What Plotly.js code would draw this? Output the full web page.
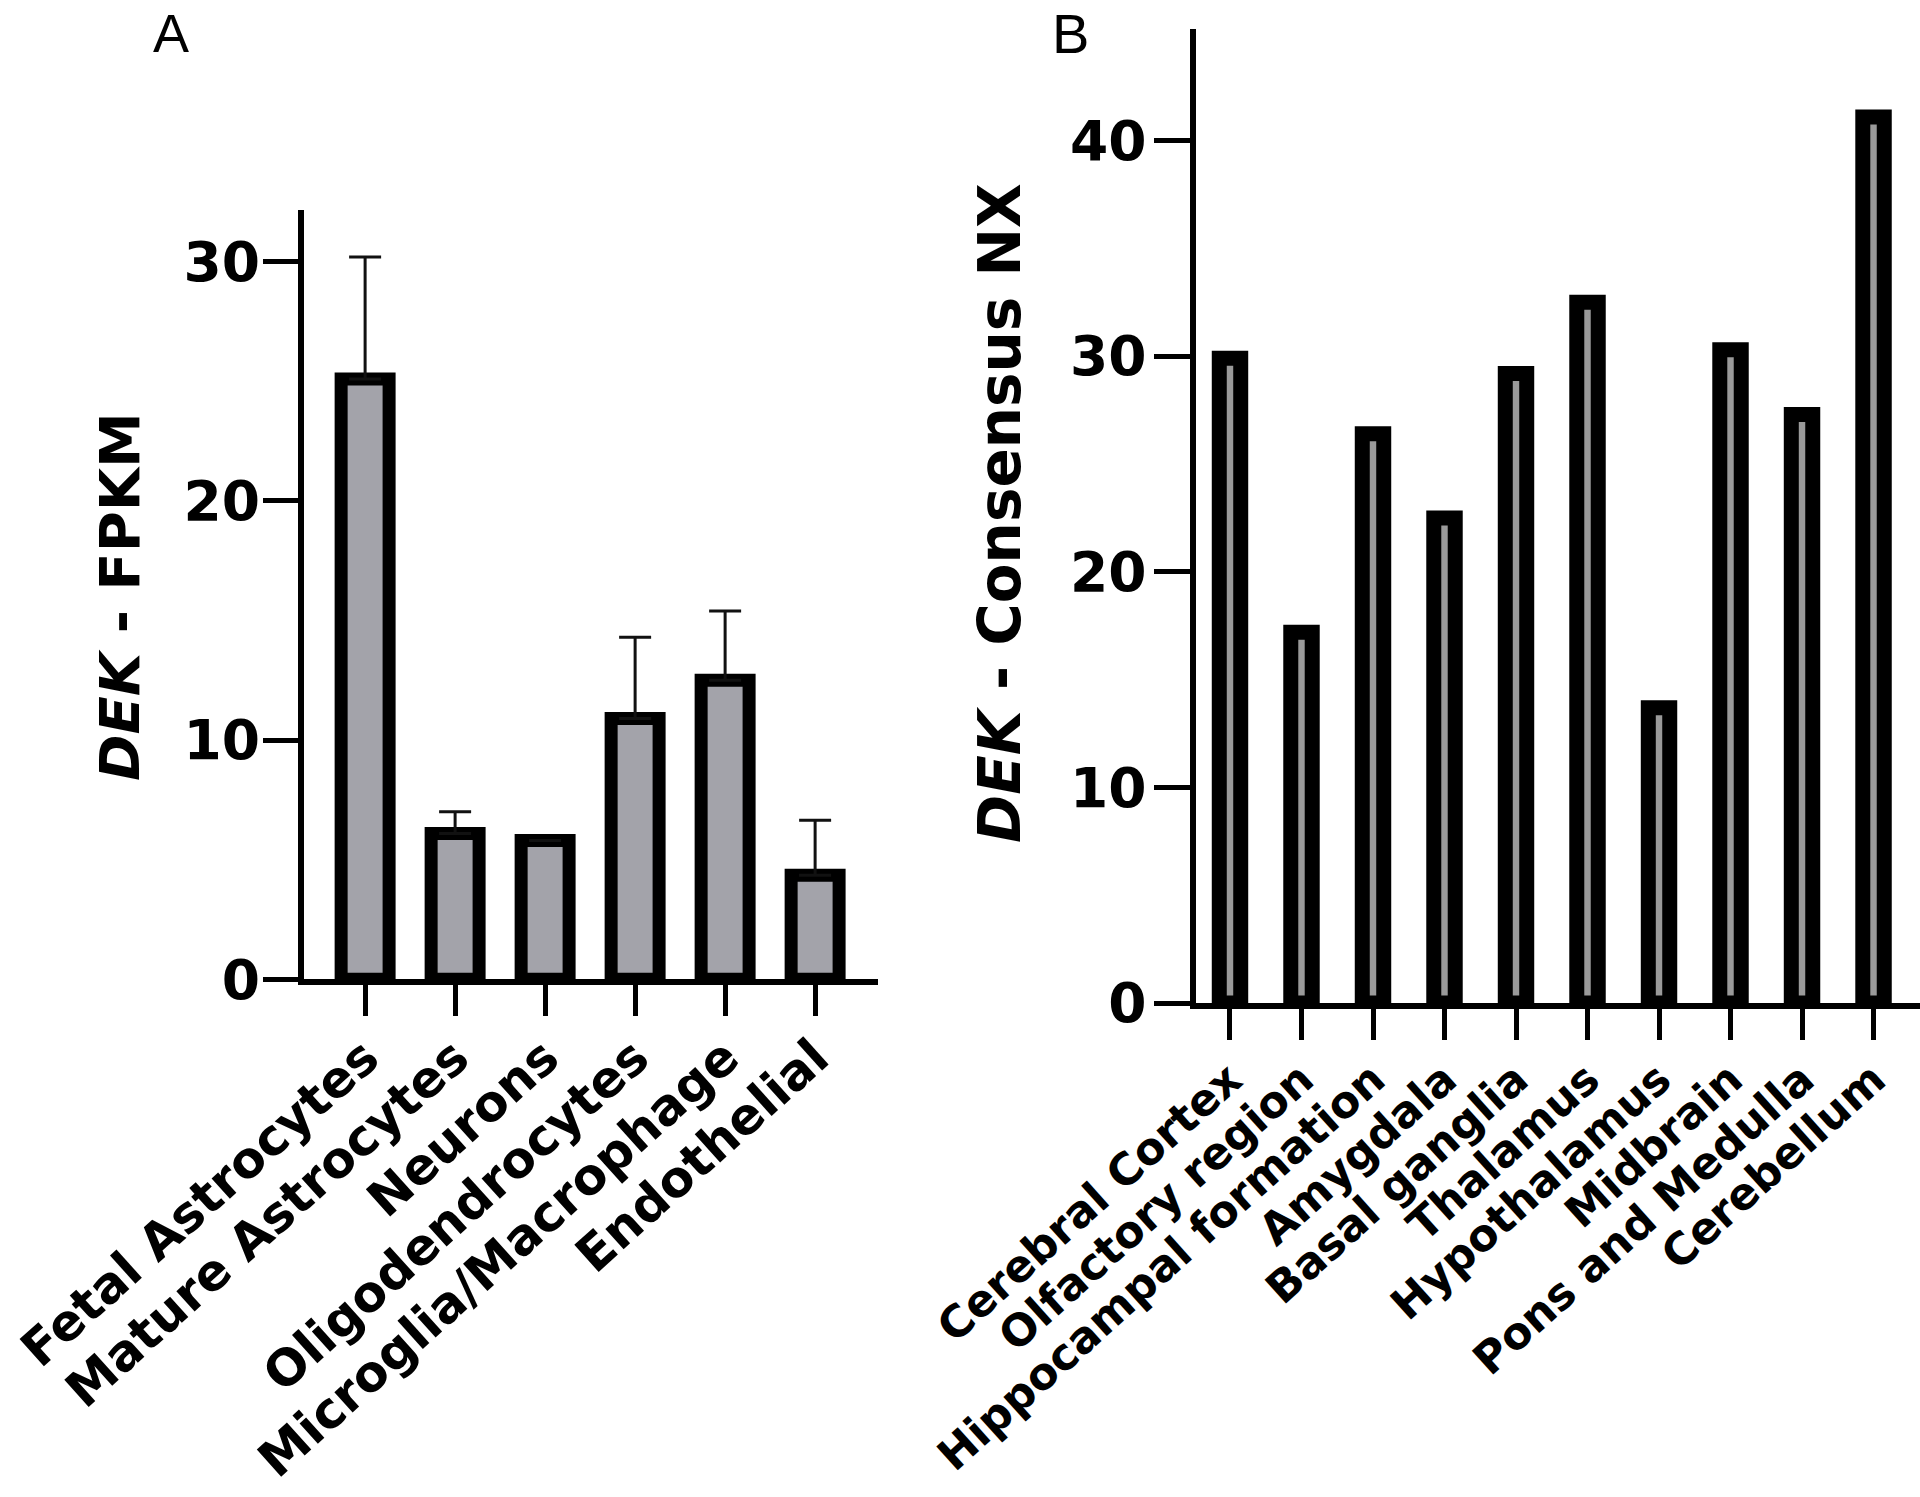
<!DOCTYPE html>
<html>
<head>
<meta charset="utf-8">
<script src="https://cdn.plot.ly/plotly-3.0.1.min.js"></script>
<style>
  html, body { margin: 0; padding: 0; background: #ffffff; }
  #chart { width: 1920px; height: 1497px; }
</style>
</head>
<body>
<div id="chart"></div>
<script>
// Panel A data (DEK - FPKM by cell type)
const cellTypes = ["Fetal Astrocytes", "Mature Astrocytes", "Neurons", "Oligodendrocytes", "Microglia/Macrophage", "Endothelial"];
const fpkmMean = [25.1, 6.1, 5.8, 10.9, 12.5, 4.35];
const fpkmErr = [5.1, 0.9, 0, 3.4, 2.9, 2.3];

// Panel B data (DEK - Consensus NX by brain region)
const brainRegions = ["Cerebral Cortex", "Olfactory region", "Hippocampal formation", "Amygdala", "Basal ganglia", "Thalamus", "Hypothalamus", "Midbrain", "Pons and Medulla", "Cerebellum"];
const consensusNX = [29.9, 17.2, 26.4, 22.5, 29.2, 32.5, 13.7, 30.3, 27.3, 41.1];

const W = 1920, H = 1497;
const FONT = "DejaVu Sans";
const zerosA = cellTypes.map(() => 0);

const traceA = {
  type: "bar",
  x: cellTypes,
  y: fpkmMean,
  xaxis: "x", yaxis: "y",
  width: 0.533,
  marker: { color: "#a3a3aa", line: { color: "#000000", width: 13 } },
  error_y: {
    type: "data", symmetric: false, array: fpkmErr, arrayminus: zerosA,
    color: "#111111", thickness: 3, width: 16, visible: true
  },
  hoverinfo: "x+y"
};

const traceB = {
  type: "bar",
  x: brainRegions,
  y: consensusNX,
  xaxis: "x2", yaxis: "y2",
  width: 0.30,
  marker: { color: "#9a9a9a", line: { color: "#000000", width: 15 } },
  hoverinfo: "x+y"
};

const axisCommon = {
  showgrid: false, zeroline: false, showline: true,
  linecolor: "#000000", linewidth: 6,
  ticks: "outside", tickcolor: "#000000", tickwidth: 5,
  automargin: false, fixedrange: true
};

const layout = {
  width: W, height: H,
  margin: { l: 0, r: 0, t: 0, b: 0, pad: 0 },
  paper_bgcolor: "#ffffff", plot_bgcolor: "#ffffff",
  showlegend: false,
  bargap: 0,
  xaxis: Object.assign({}, axisCommon, {
    domain: [304 / W, 878.3 / W],
    anchor: "y",
    type: "category",
    range: [-0.679, 5.702],
    ticklen: 31,
    tickangle: -42,
    ticklabelstandoff: -8,
    tickfont: { family: FONT, size: 50, color: "#000000", weight: "bold" }
  }),
  yaxis: Object.assign({}, axisCommon, {
    domain: [1 - 979.3 / H, 1 - 209.8 / H],
    anchor: "x",
    range: [0, 32.17],
    tick0: 0, dtick: 10,
    ticklen: 35,
    ticklabelstandoff: -8,
    tickfont: { family: FONT, size: 55, color: "#000000", weight: "bold" }
  }),
  xaxis2: Object.assign({}, axisCommon, {
    domain: [1195.6 / W, 1.0],
    anchor: "y2",
    type: "category",
    range: [-0.481, 9.65],
    ticklen: 31,
    tickangle: -42,
    ticklabelstandoff: -4,
    tickfont: { family: FONT, size: 44, color: "#000000", weight: "bold" }
  }),
  yaxis2: Object.assign({}, axisCommon, {
    domain: [1 - 1003 / H, 1 - 28.5 / H],
    anchor: "x2",
    range: [0, 45.2],
    tick0: 0, dtick: 10,
    ticklen: 36,
    ticklabelstandoff: -4,
    tickfont: { family: FONT, size: 55, color: "#000000", weight: "bold" }
  }),
  annotations: [
    {
      text: "<b><i>DEK</i> - FPKM</b>",
      xref: "paper", yref: "paper",
      x: 119 / W, y: 1 - 597 / H,
      xanchor: "center", yanchor: "middle",
      textangle: -90, showarrow: false,
      font: { family: FONT, size: 56, color: "#000000" }
    },
    {
      text: "<b><i>DEK</i> - Consensus NX</b>",
      xref: "paper", yref: "paper",
      x: 1000 / W, y: 1 - 513 / H,
      xanchor: "center", yanchor: "middle",
      textangle: -90, showarrow: false,
      font: { family: FONT, size: 58, color: "#000000" }
    },
    {
      text: "A",
      xref: "paper", yref: "paper",
      x: 171 / W, y: 1 - 33 / H,
      xanchor: "center", yanchor: "middle",
      showarrow: false,
      font: { family: "Liberation Sans", size: 54, color: "#000000" }
    },
    {
      text: "B",
      xref: "paper", yref: "paper",
      x: 1070 / W, y: 1 - 34 / H,
      xanchor: "center", yanchor: "middle",
      showarrow: false,
      font: { family: "Liberation Sans", size: 56, color: "#000000" }
    }
  ]
};

Plotly.newPlot("chart", [traceA, traceB], layout, { staticPlot: true, displayModeBar: false });
</script>
</body>
</html>
